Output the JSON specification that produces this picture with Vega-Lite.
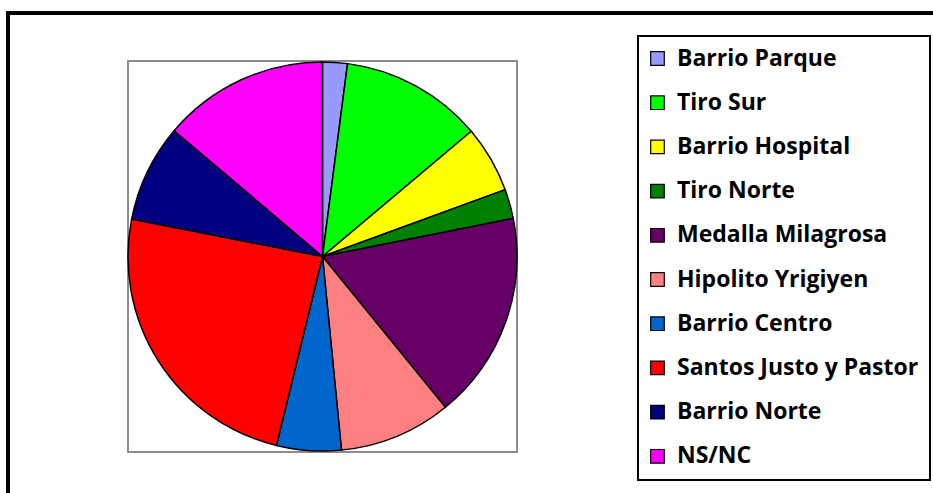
{
  "$schema": "https://vega.github.io/schema/vega-lite/v6.json",
  "autosize": "none",
  "width": 389,
  "height": 391,
  "padding": {"left": 128, "top": 61, "right": 416, "bottom": 41},
  "background": "white",
  "config": {
    "view": {"stroke": "#8c8c8c", "strokeWidth": 2},
    "legend": {"strokeWidth": 2}
  },
  "layer": [
    {
      "data": {
        "values": [
          {"barrio": "Barrio Parque", "valor": 7.4, "orden": 1},
          {"barrio": "Tiro Sur", "valor": 42.5, "orden": 2},
          {"barrio": "Barrio Hospital", "valor": 20.0, "orden": 3},
          {"barrio": "Tiro Norte", "valor": 8.8, "orden": 4},
          {"barrio": "Medalla Milagrosa", "valor": 62.1, "orden": 5},
          {"barrio": "Hipolito Yrigiyen", "valor": 33.6, "orden": 6},
          {"barrio": "Barrio Centro", "valor": 19.3, "orden": 7},
          {"barrio": "Santos Justo y Pastor", "valor": 87.4, "orden": 8},
          {"barrio": "Barrio Norte", "valor": 29.2, "orden": 9},
          {"barrio": "NS/NC", "valor": 49.7, "orden": 10}
        ]
      },
      "mark": {"type": "arc", "radius": 194.5, "stroke": "black", "strokeWidth": 1.5},
      "encoding": {
        "theta": {"field": "valor", "type": "quantitative", "stack": true},
        "order": {"field": "orden", "type": "quantitative"},
        "color": {
          "field": "barrio",
          "type": "nominal",
          "scale": {
            "domain": ["Barrio Parque", "Tiro Sur", "Barrio Hospital", "Tiro Norte", "Medalla Milagrosa", "Hipolito Yrigiyen", "Barrio Centro", "Santos Justo y Pastor", "Barrio Norte", "NS/NC"],
            "range": ["#9999FF", "#00FF00", "#FFFF00", "#008000", "#660066", "#FF8080", "#0066CC", "#FF0000", "#000080", "#FF00FF"]
          },
          "legend": {
            "title": null,
            "orient": "none",
            "legendX": 510,
            "legendY": -25,
            "direction": "vertical",
            "strokeColor": "black",
            "fillColor": "white",
            "padding": 11,
            "symbolType": "square",
            "symbolSize": 185,
            "symbolStrokeColor": "black",
            "symbolStrokeWidth": 1.2,
            "symbolOpacity": 1,
            "symbolOffset": -3,
            "labelFont": "Open Sans",
            "labelFontWeight": "bold",
            "labelFontSize": 23,
            "labelColor": "black",
            "labelOffset": 8,
            "labelLimit": 400,
            "rowPadding": 20.2
          }
        }
      }
    },
    {
      "data": {"values": [{"marco": "borde"}]},
      "mark": {"type": "rect", "fill": null, "fillOpacity": 0, "stroke": "black", "strokeWidth": 4},
      "encoding": {
        "x": {"value": -120},
        "x2": {"value": 820},
        "y": {"value": -48},
        "y2": {"value": 445}
      }
    }
  ]
}
